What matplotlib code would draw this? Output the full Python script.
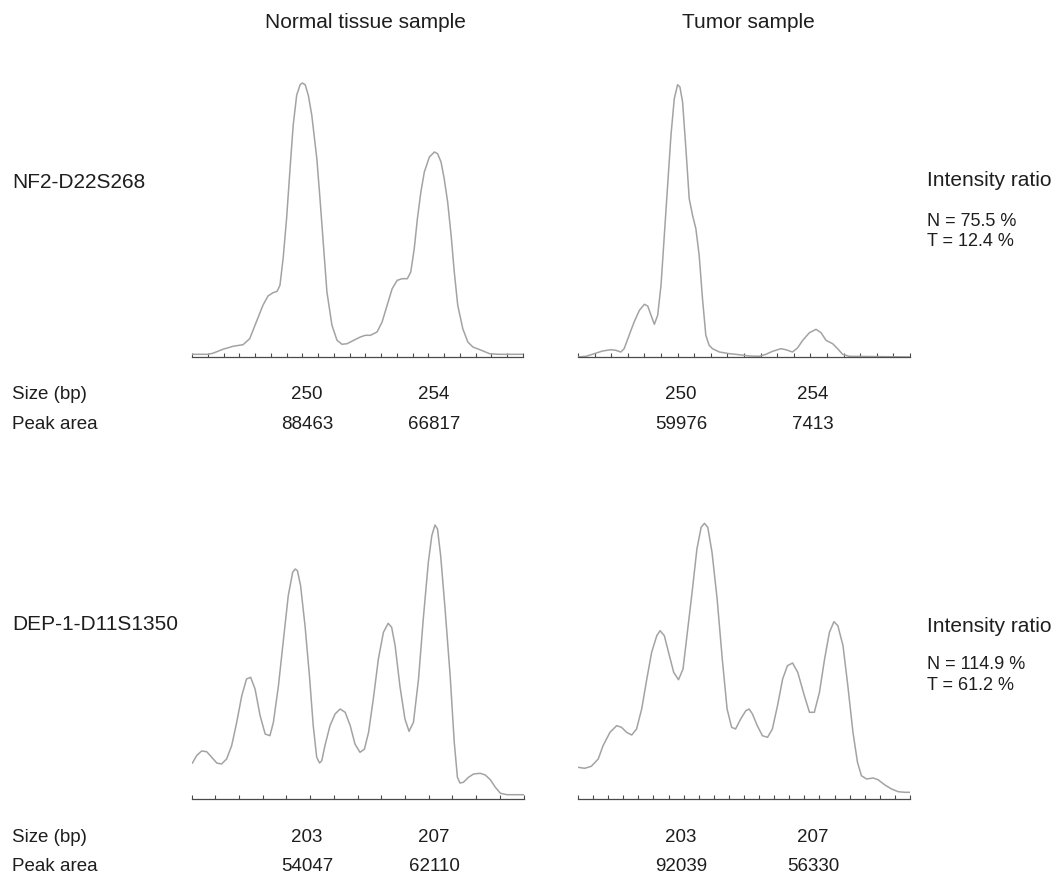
import matplotlib
matplotlib.use("Agg")
import matplotlib.pyplot as plt
import numpy as np

plt.rcParams['font.family'] = ['Liberation Sans', 'DejaVu Sans']

# ---------------- data ----------------
column_titles = ["Normal tissue sample", "Tumor sample"]
markers = ["NF2-D22S268", "DEP-1-D11S1350"]

# NF2-D22S268, normal tissue trace (size in bp, relative intensity)
nf2_normal_bp = [246.5, 247.0, 247.16, 247.48, 247.80, 248.12, 248.33, 248.54, 248.75, 248.91,
                 249.07, 249.20, 249.29, 249.39, 249.50, 249.61, 249.71, 249.82, 249.93, 250.0,
                 250.09, 250.19, 250.30, 250.46, 250.56, 250.67, 250.78, 250.94, 251.10, 251.26,
                 251.42, 251.63, 251.84, 252.0, 252.16, 252.37, 252.53, 252.69, 252.85, 253.01,
                 253.17, 253.33, 253.44, 253.55, 253.65, 253.76, 253.87, 254.03, 254.19, 254.29,
                 254.40, 254.50, 254.61, 254.72, 254.82, 254.93, 255.09, 255.25, 255.41, 255.68,
                 255.94, 256.21, 257.0]
nf2_normal_int = [2.7, 2.7, 3.7, 7.7, 10.7, 12.3, 18.3, 35, 51.7, 61,
                  64.3, 65.7, 71.7, 98.3, 138.3, 188.3, 231.7, 261.7, 272.3, 274,
                  272.3, 261.7, 241.7, 198.3, 158.3, 111.7, 65, 31.7, 16.7, 12.7,
                  13.3, 16.7, 20, 21.7, 21.7, 25, 35, 51.7, 68.3, 76.7,
                  78.3, 78.3, 85, 108.3, 138.3, 165, 185, 200, 205, 203.3,
                  195, 178.3, 155, 121.7, 85, 51.7, 28.3, 15, 10, 6.7,
                  3.3, 2.7, 2.7]

# NF2-D22S268, tumor trace
nf2_tumor_bp = [247.0, 247.24, 247.49, 247.74, 247.99, 248.14, 248.29, 248.39, 248.54, 248.69,
                248.85, 249.0, 249.10, 249.20, 249.30, 249.40, 249.50, 249.60, 249.70, 249.80,
                249.90, 250.0, 250.07, 250.15, 250.25, 250.35, 250.45, 250.55, 250.65, 250.75,
                250.85, 250.95, 251.05, 251.26, 251.56, 251.86, 252.16, 252.46, 252.66, 252.86,
                253.11, 253.26, 253.46, 253.61, 253.77, 253.97, 254.17, 254.32, 254.47, 254.67,
                254.82, 254.97, 255.17, 257.0]
nf2_tumor_int = [0, 0.7, 3.3, 6, 7.3, 6.7, 5, 8.3, 21.7, 35,
                 46.7, 52.7, 51, 41.7, 32.7, 41.7, 71.7, 121.7, 171.7, 221.7,
                 258.3, 272.3, 270, 255, 208.3, 158.3, 141.7, 128.3, 101.7, 58.3,
                 21.7, 11.7, 8.3, 5, 3.3, 2.3, 1, 0.7, 2.7, 5.7,
                 8.3, 7.3, 5, 9, 16.7, 24.3, 27.7, 24.3, 16.7, 13.3,
                 8.3, 2.7, 0.7, 0]

# DEP-1-D11S1350, normal tissue trace
dep_normal_bp = [199.28, 199.41, 199.57, 199.73, 199.89, 200.05, 200.20, 200.36, 200.52, 200.68,
                 200.84, 200.99, 201.12, 201.26, 201.42, 201.58, 201.73, 201.84, 202.0, 202.16,
                 202.31, 202.45, 202.53, 202.60, 202.70, 202.84, 202.98, 203.10, 203.21, 203.30,
                 203.37, 203.47, 203.63, 203.79, 203.95, 204.11, 204.27, 204.42, 204.58, 204.72,
                 204.85, 205.0, 205.16, 205.32, 205.47, 205.58, 205.69, 205.84, 206.0, 206.13,
                 206.27, 206.43, 206.58, 206.74, 206.85, 206.95, 207.03, 207.13, 207.27, 207.43,
                 207.56, 207.66, 207.74, 207.85, 208.01, 208.17, 208.38, 208.54, 208.70, 208.86,
                 209.02, 209.23, 209.75]
dep_normal_int = [36, 43.3, 48, 47.3, 41.7, 36, 35, 40, 53.3, 76.7,
                  103.3, 120, 121.7, 110, 83.3, 65, 63.3, 76.7, 113.3, 160,
                  203.3, 226.7, 230, 228.3, 213.3, 173.3, 123.3, 73.3, 41.7, 36,
                  38.3, 53.3, 73.3, 85, 90, 86.7, 73.3, 55, 46.7, 50,
                  66.7, 100, 140, 166.7, 175.7, 171.7, 153.3, 113.3, 80, 67.7,
                  76.7, 120, 180, 236.7, 263.3, 274, 270, 243.3, 190, 123.3,
                  56.7, 21.7, 16, 16.7, 21.7, 25, 25.7, 24, 19.3, 11.7,
                  5.7, 4.3, 4.3]

# DEP-1-D11S1350, tumor trace
dep_tumor_bp = [199.5, 199.72, 199.94, 200.17, 200.33, 200.56, 200.78, 200.94, 201.11, 201.28,
                201.44, 201.61, 201.78, 201.94, 202.11, 202.22, 202.36, 202.5, 202.67, 202.83,
                202.98, 203.11, 203.28, 203.44, 203.58, 203.69, 203.80, 203.94, 204.11, 204.28,
                204.44, 204.59, 204.72, 204.89, 205.06, 205.17, 205.28, 205.44, 205.61, 205.78,
                205.94, 206.11, 206.28, 206.44, 206.61, 206.78, 207.0, 207.17, 207.33, 207.5,
                207.67, 207.83, 207.98, 208.11, 208.28, 208.44, 208.61, 208.76, 208.89, 209.06,
                209.28, 209.44, 209.67, 209.89, 210.11, 210.33, 210.5]
dep_tumor_int = [31.7, 30.7, 32.7, 40, 53.3, 66.7, 73.3, 71.7, 66.7, 64,
                 70, 90, 120, 146.7, 163.3, 168.3, 163.3, 146.7, 126.7, 119.3,
                 130, 163.3, 206.7, 250, 271.7, 275.7, 271.7, 246.7, 200, 140,
                 90, 71.7, 70, 80, 88.3, 90, 85, 73.3, 63.3, 61.7,
                 70, 93.3, 120, 133.3, 136, 126.7, 103.3, 86.7, 86.7, 106.7,
                 140, 166.7, 177.3, 173.3, 153.3, 113.3, 66.7, 36.7, 23.3, 20,
                 21, 19.3, 14, 10, 7.3, 6.7, 6.7]

# peak table
nf2_sizes = ["250", "254"]
nf2_area_normal = ["88463", "66817"]
nf2_area_tumor = ["59976", "7413"]
dep_sizes = ["203", "207"]
dep_area_normal = ["54047", "62110"]
dep_area_tumor = ["92039", "56330"]

ratio_title = "Intensity ratio"
nf2_ratios = ["N = 75.5 %", "T = 12.4 %"]
dep_ratios = ["N = 114.9 %", "T = 61.2 %"]

# ---------------- layout ----------------
W, H = 1055, 879
fig = plt.figure(figsize=(W / 100, H / 100), dpi=100)
fig.patch.set_facecolor("white")

TXT = "#1e1e1e"
CURVE = "#a3a3a3"
AXC = "#4a4a4a"


def fx(px):
    return px / W


def fy(py):
    return 1 - py / H


def panel(x0, x1, base_y, bp, inten, xlim, step):
    ax = fig.add_axes([fx(x0), fy(base_y), fx(x1) - fx(x0), 300 / H])
    ax.plot(bp, inten, color=CURVE, lw=1.1, solid_joinstyle="round")
    ax.set_xlim(*xlim)
    ax.set_ylim(0, 300)
    ticks = np.arange(xlim[0], xlim[1] + 1e-6, step)
    ax.set_xticks(ticks)
    ax.set_yticks([])
    for s in ["top", "left", "right"]:
        ax.spines[s].set_visible(False)
    ax.spines["bottom"].set_color(AXC)
    ax.spines["bottom"].set_linewidth(0.9)
    ax.tick_params(axis="x", direction="in", length=3.2, width=0.8,
                   color=AXC, labelbottom=False)
    ax.patch.set_alpha(0)
    return ax


panel(192, 523, 358, nf2_normal_bp, nf2_normal_int, (246.5, 257.0), 0.5)
panel(578, 910, 358, nf2_tumor_bp, nf2_tumor_int, (247.0, 257.0), 0.5)
panel(191.5, 523.5, 800, dep_normal_bp, dep_normal_int, (199.25, 209.75), 0.75)
panel(578, 910, 800, dep_tumor_bp, dep_tumor_int, (199.5, 210.5), 0.5)

# column titles
fig.text(fx(365), fy(22), column_titles[0], ha="center", va="center", fontsize=15, color=TXT)
fig.text(fx(748), fy(22), column_titles[1], ha="center", va="center", fontsize=15, color=TXT)

# marker names
fig.text(fx(12), fy(183), markers[0], ha="left", va="center", fontsize=15, color=TXT)
fig.text(fx(12), fy(625), markers[1], ha="left", va="center", fontsize=15, color=TXT)

# intensity ratios
fig.text(fx(927), fy(181), ratio_title, ha="left", va="center", fontsize=15, color=TXT)
fig.text(fx(927), fy(221), nf2_ratios[0], ha="left", va="center", fontsize=13, color=TXT)
fig.text(fx(927), fy(242), nf2_ratios[1], ha="left", va="center", fontsize=13, color=TXT)
fig.text(fx(927), fy(627), ratio_title, ha="left", va="center", fontsize=15, color=TXT)
fig.text(fx(927), fy(665), dep_ratios[0], ha="left", va="center", fontsize=13, color=TXT)
fig.text(fx(927), fy(686), dep_ratios[1], ha="left", va="center", fontsize=13, color=TXT)

# peak tables
TS = 13.5
rows = [(395, 425, nf2_sizes, nf2_area_normal, nf2_area_tumor),
        (838, 867, dep_sizes, dep_area_normal, dep_area_tumor)]
for y_size, y_area, sizes, an, at in rows:
    fig.text(fx(12), fy(y_size), "Size (bp)", ha="left", va="center", fontsize=TS, color=TXT)
    fig.text(fx(12), fy(y_area), "Peak area", ha="left", va="center", fontsize=TS, color=TXT)
    for cx, s, a in zip([307, 434], sizes, an):
        fig.text(fx(cx), fy(y_size), s, ha="center", va="center", fontsize=TS, color=TXT)
        fig.text(fx(cx), fy(y_area), a, ha="center", va="center", fontsize=TS, color=TXT)
    for cx, s, a in zip([681, 813], sizes, at):
        fig.text(fx(cx), fy(y_size), s, ha="center", va="center", fontsize=TS, color=TXT)
        fig.text(fx(cx), fy(y_area), a, ha="center", va="center", fontsize=TS, color=TXT)

fig.savefig("out.png", dpi=100, facecolor="white")
